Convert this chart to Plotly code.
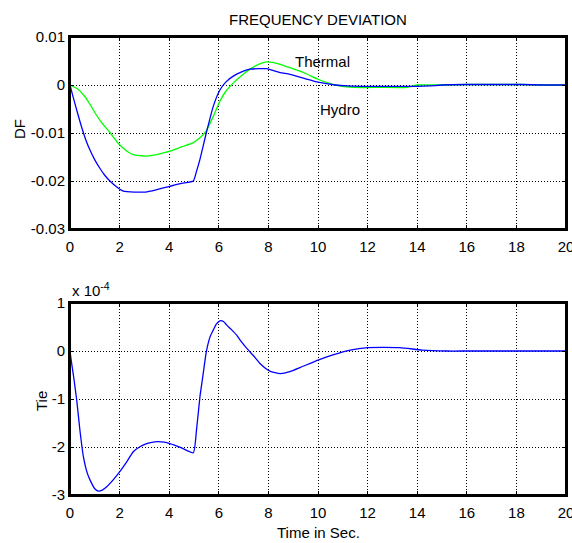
import plotly.graph_objects as go

# Frequency deviation (top)
t_hydro = [0, 0.1, 0.27, 0.47, 0.65, 0.81, 1.0, 1.21, 1.4, 1.61, 1.9, 2.15, 2.6, 3.05, 3.5, 4.03, 4.5, 4.97, 5.1, 5.24, 5.5, 5.78, 6.05, 6.3, 6.6, 6.9, 7.26, 7.6, 7.93, 8.47, 8.87, 9.5, 10.0, 10.7, 11.2, 12.0, 13.0, 14.0, 14.5, 15.0, 16.0, 17.0, 18.2, 19.0, 20.0]
df_hydro = [0, -0.0020, -0.0052, -0.0088, -0.0116, -0.0136, -0.0156, -0.0174, -0.0188, -0.0200, -0.0213, -0.0221, -0.0223, -0.0223, -0.0218, -0.0211, -0.0205, -0.0200, -0.0180, -0.0155, -0.0099, -0.0044, -0.0010, 0.0007, 0.0019, 0.0027, 0.0033, 0.0034, 0.0034, 0.0026, 0.0022, 0.0013, 0.0006, 0.0000, -0.0002, -0.0003, -0.0003, -0.0003, -0.0002, 0.0000, 0.0001, 0.0001, 0.0001, 0.0000, 0.0000]
t_thermal = [0, 0.3, 0.6, 0.8, 1.07, 1.3, 1.61, 1.95, 2.3, 2.55, 3.1, 3.5, 4.03, 4.5, 4.97, 5.24, 5.5, 5.78, 6.05, 6.3, 6.6, 6.9, 7.26, 7.6, 7.93, 8.47, 8.87, 9.5, 10.0, 10.7, 11.5, 12.5, 13.6, 14.0, 15.0, 16.0, 17.0, 18.2, 19.0, 20.0]
df_thermal = [0, -0.0008, -0.0024, -0.0040, -0.0063, -0.0080, -0.0099, -0.0122, -0.0138, -0.0145, -0.0148, -0.0145, -0.0138, -0.0129, -0.0120, -0.0110, -0.0095, -0.0065, -0.0033, -0.0012, 0.0005, 0.0019, 0.0033, 0.0043, 0.0048, 0.0043, 0.0036, 0.0024, 0.0012, 0.0000, -0.0005, -0.0005, -0.0005, 0.0000, 0.0000, 0.0001, 0.0001, 0.0001, 0.0000, 0.0000]

# Tie-line power deviation (bottom), in units of 1e-4
t_tie = [0, 0.05, 0.15, 0.27, 0.4, 0.54, 0.7, 0.81, 1.0, 1.14, 1.3, 1.48, 1.75, 2.0, 2.3, 2.55, 2.8, 3.09, 3.5, 3.8, 4.03, 4.5, 4.97, 5.1, 5.24, 5.35, 5.5, 5.65, 5.78, 5.9, 6.05, 6.2, 6.32, 6.5, 6.72, 6.9, 7.12, 7.4, 7.66, 8.06, 8.47, 8.87, 9.3, 10.0, 10.6, 11.3, 12.0, 13.3, 14.2, 15.2, 16.0, 18.0, 20.0]
tie = [0, -0.20, -0.55, -1.02, -1.65, -2.20, -2.55, -2.69, -2.87, -2.92, -2.90, -2.83, -2.68, -2.52, -2.30, -2.10, -2.00, -1.93, -1.89, -1.90, -1.93, -2.02, -2.12, -1.65, -0.95, -0.55, -0.01, 0.30, 0.44, 0.56, 0.63, 0.61, 0.54, 0.45, 0.33, 0.20, 0.06, -0.10, -0.26, -0.42, -0.47, -0.43, -0.34, -0.19, -0.08, 0.02, 0.07, 0.07, 0.02, 0.0, 0.0, 0.0, 0.0]

x_ticks = list(range(0, 21, 2))
df_ticks = [0.01, 0, -0.01, -0.02, -0.03]
df_tick_text = ["0.01", "0", "-0.01", "-0.02", "-0.03"]
tie_ticks = [1, 0, -1, -2, -3]
tie_tick_text = ["1", "0", "-1", "-2", "-3"]

FONT = "Liberation Sans, Arial, sans-serif"
FS = 15

fig = go.Figure()
line_kw = dict(width=1.3, shape="spline", smoothing=0.5)
fig.add_trace(go.Scatter(x=t_thermal, y=df_thermal, mode="lines", line=dict(color="#00ff00", **line_kw), xaxis="x", yaxis="y", showlegend=False))
fig.add_trace(go.Scatter(x=t_hydro, y=df_hydro, mode="lines", line=dict(color="#0000ff", **line_kw), xaxis="x", yaxis="y", showlegend=False))
fig.add_trace(go.Scatter(x=t_tie, y=tie, mode="lines", line=dict(color="#0000ff", **line_kw), xaxis="x2", yaxis="y2", showlegend=False))

axcommon = dict(showline=True, linecolor="black", linewidth=2, mirror="allticks",
                ticks="inside", ticklen=4, tickcolor="black",
                showgrid=True, gridcolor="black", griddash="1px,2px", gridwidth=1,
                zeroline=False, automargin=False, ticklabeloverflow="allow",
                tickfont=dict(size=FS, color="black", family=FONT))

L, R, T, B = 70, 6, 37, 48
H = 543 - T - B  # 458
W = 572 - L - R  # 496

def px_x(px):
    return (px - L) / W

def px_y(py):
    return (543 - B - py) / H

fig.update_layout(
    width=572, height=543,
    paper_bgcolor="white", plot_bgcolor="white",
    margin=dict(l=L, r=R, t=T, b=B, autoexpand=False),
    font=dict(family=FONT, color="black", size=FS),
    xaxis=dict(domain=[0, 1], range=[0, 20], tickvals=x_ticks, anchor="y", ticklabelstandoff=3, **axcommon),
    yaxis=dict(domain=[px_y(229), 1], range=[-0.03, 0.01], tickvals=df_ticks, ticktext=df_tick_text, anchor="x", **axcommon),
    xaxis2=dict(domain=[0, 1], range=[0, 20], tickvals=x_ticks, anchor="y2", ticklabelstandoff=3, **axcommon),
    yaxis2=dict(domain=[0, px_y(303)], range=[-3, 1], tickvals=tie_ticks, ticktext=tie_tick_text, anchor="x2", **axcommon),
    shapes=[
        dict(type="rect", xref="x domain", yref="y domain", x0=0, x1=1, y0=0, y1=1,
             line=dict(color="black", width=2), layer="above"),
        dict(type="rect", xref="x2 domain", yref="y2 domain", x0=0, x1=1, y0=0, y1=1,
             line=dict(color="black", width=2), layer="above"),
    ],
    annotations=[
        dict(text="FREQUENCY DEVIATION", x=px_x(318), y=px_y(19), xref="paper", yref="paper",
             showarrow=False, xanchor="center", yanchor="middle", font=dict(size=FS)),
        dict(text="DF", x=px_x(19), y=px_y(129), xref="paper", yref="paper", textangle=-90,
             showarrow=False, xanchor="center", yanchor="middle", font=dict(size=FS)),
        dict(text="Tie", x=px_x(41), y=px_y(401), xref="paper", yref="paper", textangle=-90,
             showarrow=False, xanchor="center", yanchor="middle", font=dict(size=FS)),
        dict(text="Time in Sec.", x=px_x(318), y=px_y(532), xref="paper", yref="paper",
             showarrow=False, xanchor="center", yanchor="middle", font=dict(size=FS)),
        dict(text="Thermal", x=9.0, y=0.0048, xref="x", yref="y", showarrow=False,
             xanchor="left", yanchor="middle", font=dict(size=FS)),
        dict(text="Hydro", x=10.0, y=-0.0052, xref="x", yref="y", showarrow=False,
             xanchor="left", yanchor="middle", font=dict(size=FS)),
        dict(text="x 10<sup>-4</sup>", x=0, y=px_y(289), xref="paper", yref="paper",
             showarrow=False, xanchor="left", yanchor="middle", font=dict(size=FS)),
    ],
)

fig.write_html("out.html", config={"displayModeBar": False},
               post_script="document.body.style.margin='0';document.body.style.overflow='hidden';")
